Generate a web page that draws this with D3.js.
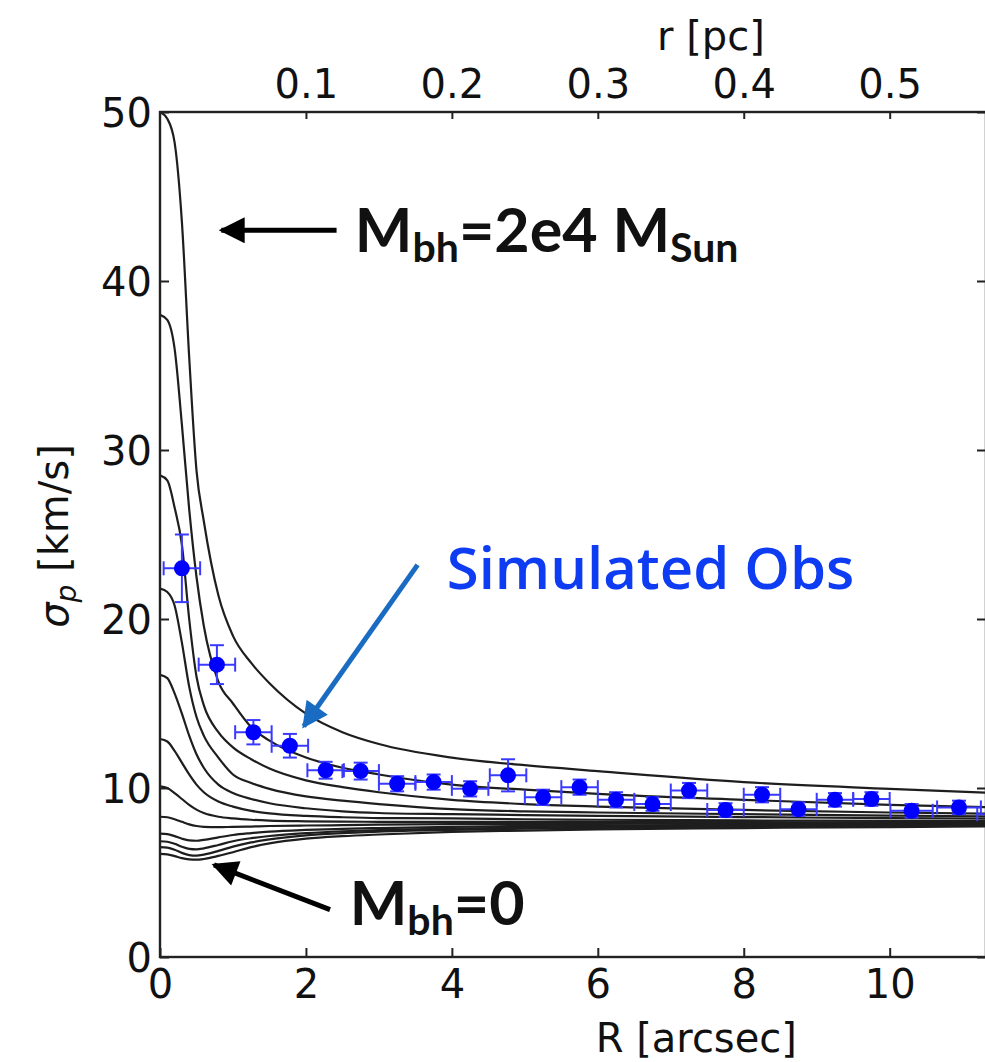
<!DOCTYPE html>
<meta charset="utf-8">
<style>
body { margin: 0; background: #fff; }
text { font-family: "DejaVu Sans", sans-serif; fill: #111; }
.axis text { font-size: 40px; }
.axis line { stroke: #222; stroke-width: 2px; }
.axis path { display: none; }
.note { font-family: Lato, "Open Sans", sans-serif; }
</style>
<body>
<svg width="985" height="1062"></svg>
<script src="https://d3js.org/d3.v7.min.js"></script>
<script>
var rGrid = [0, 0.1, 0.2, 0.3, 0.4, 0.5, 0.6, 0.8, 1.0, 1.25, 1.5, 2, 2.5, 3, 4, 5, 6, 8, 10, 12];

// projected dispersion (km/s), from Mbh = 2e4 Msun (top) down to Mbh = 0 (bottom)
var curve1 = [50, 49.6, 48.2, 43.5, 35.5, 28.8, 25.8, 21.4, 19.0, 17.4, 16.2, 14.4, 13.3, 12.6, 11.8, 11.35, 11.0, 10.35, 9.95, 9.6];
var curve2 = [38, 37.7, 36.0, 31.5, 26.5, 22.5, 19.6, 16.3, 15.0, 13.6, 12.8, 11.8, 11.2, 10.8, 10.2, 9.9, 9.65, 9.3, 9.0, 8.8];
var curve3 = [28.5, 28.2, 26.6, 24.4, 20.0, 16.6, 14.9, 13.3, 12.4, 11.7, 11.15, 10.45, 10.05, 9.75, 9.3, 9.05, 8.9, 8.7, 8.55, 8.45];
var curve4 = [21.8, 21.6, 20.8, 18.6, 16.0, 14.2, 13.1, 11.8, 10.8, 10.3, 9.95, 9.5, 9.25, 9.05, 8.75, 8.62, 8.55, 8.45, 8.37, 8.3];
var curve5 = [16.7, 16.5, 15.6, 14.4, 13.1, 12.0, 11.2, 10.2, 9.7, 9.35, 9.1, 8.8, 8.62, 8.52, 8.45, 8.4, 8.35, 8.28, 8.22, 8.18];
var curve6 = [12.9, 12.75, 12.2, 11.5, 10.8, 10.2, 9.75, 9.2, 8.9, 8.65, 8.5, 8.35, 8.27, 8.22, 8.2, 8.15, 8.12, 8.08, 8.05, 8.03];
var curve7 = [10.1, 10.0, 9.7, 9.35, 9.0, 8.72, 8.52, 8.3, 8.2, 8.12, 8.07, 8.03, 8.01, 8.0, 8.0, 8.0, 8.0, 7.98, 7.97, 7.97];
var curve8 = [8.3, 8.27, 8.15, 8.0, 7.85, 7.75, 7.7, 7.68, 7.7, 7.72, 7.75, 7.78, 7.8, 7.83, 7.86, 7.88, 7.88, 7.9, 7.9, 7.92];
var curve9 = [7.3, 7.27, 7.15, 7.0, 6.9, 6.88, 6.93, 7.08, 7.22, 7.33, 7.42, 7.52, 7.58, 7.63, 7.7, 7.75, 7.78, 7.82, 7.85, 7.88];
var curve10 = [6.85, 6.82, 6.7, 6.52, 6.4, 6.37, 6.43, 6.63, 6.85, 7.03, 7.16, 7.33, 7.44, 7.51, 7.6, 7.66, 7.7, 7.76, 7.8, 7.84];
var curve11 = [6.5, 6.47, 6.35, 6.16, 6.03, 6.0, 6.06, 6.28, 6.53, 6.78, 6.96, 7.2, 7.33, 7.42, 7.52, 7.59, 7.64, 7.7, 7.75, 7.8];
var curve12 = [6.1, 6.07, 5.97, 5.85, 5.78, 5.76, 5.8, 5.98, 6.2, 6.5, 6.72, 7.0, 7.15, 7.25, 7.4, 7.48, 7.55, 7.63, 7.69, 7.74];
var curves = [curve1, curve2, curve3, curve4, curve5, curve6, curve7, curve8, curve9, curve10, curve11, curve12];

// simulated observations
var obsR = [0.30, 0.78, 1.28, 1.78, 2.27, 2.75, 3.25, 3.75, 4.25, 4.77, 5.25, 5.75, 6.25, 6.75, 7.25, 7.75, 8.25, 8.75, 9.25, 9.75, 10.3, 10.95, 11.5];
var obsSigma = [23.0, 17.3, 13.3, 12.5, 11.05, 11.0, 10.25, 10.35, 9.95, 10.75, 9.45, 10.05, 9.3, 9.05, 9.85, 8.7, 9.6, 8.75, 9.3, 9.35, 8.65, 8.85, 8.45];
var obsRErr = [0.25, 0.25, 0.25, 0.25, 0.25, 0.25, 0.25, 0.25, 0.25, 0.25, 0.25, 0.25, 0.25, 0.25, 0.25, 0.25, 0.25, 0.25, 0.25, 0.25, 0.29, 0.3, 0.3];
var obsSigmaErr = [2.0, 1.15, 0.72, 0.7, 0.5, 0.5, 0.45, 0.45, 0.45, 0.95, 0.45, 0.45, 0.45, 0.4, 0.45, 0.4, 0.45, 0.4, 0.4, 0.4, 0.4, 0.4, 0.4];

var xTicks = [0, 2, 4, 6, 8, 10];
var yTicks = [0, 10, 20, 30, 40, 50];
var pcTicks = [0.1, 0.2, 0.3, 0.4, 0.5];
var arcsecPerPc = 20;
var xMax = 11.32;

var svg = d3.select("svg"),
    margin = {top: 112, left: 160, bottom: 105},
    width = 826,
    height = +svg.attr("height") - margin.top - margin.bottom,
    g = svg.append("g").attr("transform", "translate(" + margin.left + "," + margin.top + ")");

var x = d3.scaleLinear().domain([0, xMax]).range([0, width]);
var xPc = d3.scaleLinear().domain([0, xMax / arcsecPerPc]).range([0, width]);
var y = d3.scaleLinear().domain([0, 50]).range([height, 0]);

g.append("clipPath").attr("id", "plot")
  .append("rect").attr("width", width).attr("height", height);

var plot = g.append("g").attr("clip-path", "url(#plot)");

var line = d3.line()
    .x(function(d, i) { return x(rGrid[i]); })
    .y(function(d) { return y(d); })
    .curve(d3.curveMonotoneX);

plot.selectAll(".model")
  .data(curves)
  .enter().append("path")
    .attr("class", "model")
    .attr("d", line)
    .attr("fill", "none")
    .attr("stroke", "#1e1e1e")
    .attr("stroke-width", 2.2);

// error bars + points
var obs = obsR.map(function(r, i) {
  return {r: r, s: obsSigma[i], dr: obsRErr[i], ds: obsSigmaErr[i]};
});
var pts = plot.selectAll(".obs").data(obs).enter().append("g").attr("class", "obs");
var errColor = "#3a3aff", cap = 7;
pts.append("line")
    .attr("x1", function(d) { return x(d.r - d.dr); })
    .attr("x2", function(d) { return x(d.r + d.dr); })
    .attr("y1", function(d) { return y(d.s); })
    .attr("y2", function(d) { return y(d.s); });
pts.append("line")
    .attr("x1", function(d) { return x(d.r); })
    .attr("x2", function(d) { return x(d.r); })
    .attr("y1", function(d) { return y(d.s - d.ds); })
    .attr("y2", function(d) { return y(d.s + d.ds); });
[-1, 1].forEach(function(k) {
  pts.append("line")
      .attr("x1", function(d) { return x(d.r + k * d.dr); })
      .attr("x2", function(d) { return x(d.r + k * d.dr); })
      .attr("y1", function(d) { return y(d.s) - cap; })
      .attr("y2", function(d) { return y(d.s) + cap; });
  pts.append("line")
      .attr("x1", function(d) { return x(d.r) - cap; })
      .attr("x2", function(d) { return x(d.r) + cap; })
      .attr("y1", function(d) { return y(d.s + k * d.ds); })
      .attr("y2", function(d) { return y(d.s + k * d.ds); });
});
pts.selectAll("line").attr("stroke", errColor).attr("stroke-width", 2);
pts.append("circle")
    .attr("cx", function(d) { return x(d.r); })
    .attr("cy", function(d) { return y(d.s); })
    .attr("r", 8)
    .attr("fill", "#0000ff");

// axes, ticks pointing inwards as in matplotlib classic
g.append("g").attr("class", "axis")
    .call(d3.axisLeft(y).tickValues(yTicks).tickSizeInner(-9).tickSizeOuter(0).tickPadding(8))
    .selectAll("text").attr("dy", "0.36em");
g.append("g").attr("class", "axis")
    .attr("transform", "translate(" + width + ",0)")
    .call(d3.axisRight(y).tickValues(yTicks).tickSizeInner(-9).tickSizeOuter(0).tickFormat(""));
g.append("g").attr("class", "axis")
    .attr("transform", "translate(0," + height + ")")
    .call(d3.axisBottom(x).tickValues(xTicks).tickSizeInner(-9).tickSizeOuter(0).tickPadding(13));
g.append("g").attr("class", "axis")
    .call(d3.axisTop(xPc).tickValues(pcTicks).tickFormat(d3.format(".1")).tickSizeInner(-7).tickSizeOuter(0).tickPadding(14));

g.append("rect")
    .attr("width", width).attr("height", height)
    .attr("fill", "none").attr("stroke", "#222").attr("stroke-width", 2.4);

// axis titles
svg.append("text")
    .attr("x", margin.left + x(7.35)).attr("y", 1052)
    .attr("text-anchor", "middle").attr("font-size", 40)
    .text("R [arcsec]");
svg.append("text")
    .attr("x", margin.left + x(7.55)).attr("y", 50)
    .attr("text-anchor", "middle").attr("font-size", 40)
    .text("r [pc]");
var ylab = svg.append("text")
    .attr("transform", "translate(68,536) rotate(-90)")
    .attr("text-anchor", "middle").attr("font-size", 40);
ylab.append("tspan").attr("font-style", "italic").text("σ");
ylab.append("tspan").attr("font-style", "italic").attr("font-size", 28).attr("dy", 8).text("p");
ylab.append("tspan").attr("dy", -8).text("  [km/s]");

// annotations
var defs = svg.append("defs");
function head(id, color) {
  defs.append("marker").attr("id", id)
      .attr("viewBox", "0 0 10 10").attr("refX", 9).attr("refY", 5)
      .attr("markerUnits", "userSpaceOnUse")
      .attr("markerWidth", 30).attr("markerHeight", 26).attr("orient", "auto")
    .append("path").attr("d", "M0,0L10,5L0,10z").attr("fill", color);
}
head("blk", "#000");
head("blu", "#1a6cc2");

function arrow(r0, s0, r1, s1, id, color) {
  g.append("line")
      .attr("x1", x(r0)).attr("y1", y(s0))
      .attr("x2", x(r1)).attr("y2", y(s1))
      .attr("stroke", color).attr("stroke-width", 5)
      .attr("marker-end", "url(#" + id + ")");
}
arrow(2.42, 43.0, 0.84, 43.0, "blk", "#000");
arrow(2.33, 2.8, 0.74, 5.45, "blk", "#000");
arrow(3.53, 23.2, 1.97, 13.65, "blu", "#1a6cc2");

function mbh(r, s, parts) {
  var t = g.append("text").attr("class", "note")
      .attr("x", x(r)).attr("y", y(s))
      .attr("font-weight", 700).attr("font-size", 61);
  var shift = 0;
  parts.forEach(function(p) {
    var dy = (p.sub ? 10 : 0) - shift;
    shift = p.sub ? 10 : 0;
    t.append("tspan").attr("dy", dy).attr("font-size", p.sub ? 41 : 61).text(p.t);
  });
}
mbh(2.67, 41.7, [{t: "M"}, {t: "bh", sub: true}, {t: "=2e4 M"}, {t: "Sun", sub: true}]);
mbh(2.6, 1.9, [{t: "M"}, {t: "bh", sub: true}, {t: "=0"}]);

g.append("text").attr("class", "note")
    .attr("x", x(3.93)).attr("y", y(21.8))
    .attr("font-size", 58).attr("font-weight", 600)
    .style("font-family", "'Open Sans', Lato, sans-serif")
    .style("fill", "#0d3cf2")
    .text("Simulated Obs");
</script>
</body>
